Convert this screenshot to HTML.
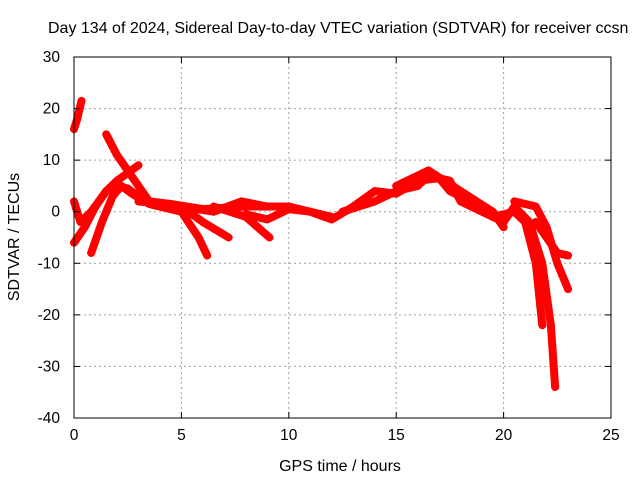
<!DOCTYPE html>
<html><head><meta charset="utf-8"><style>
body{margin:0;background:#fff}
svg{display:block;font-family:"Liberation Sans",sans-serif}
</style></head><body>
<svg id="chart" width="640" height="480" viewBox="0 0 640 480">
<text x="48" y="33" font-size="16" fill="#000">Day 134 of 2024, Sidereal Day-to-day VTEC variation (SDTVAR) for receiver ccsn</text>
<text x="340" y="471" font-size="16" text-anchor="middle">GPS time / hours</text>
<text transform="translate(19,237) rotate(-90)" font-size="16" text-anchor="middle">SDTVAR / TECUs</text>
<g id="grid"></g><g id="marks"></g><g id="axes"></g>
</svg>
<script>
const xTicks=[0,5,10,15,20,25];
const yTicks=[30,20,10,0,-10,-20,-30,-40];
const trackA=[[0,16],[0.15,18],[0.35,21.5]];
const trackB=[[1.5,15],[2,11],[2.5,8],[3,5],[3.5,2],[4.5,1.5],[6,0.5],[8,1],[9,1],[10,1],[11,0],[12,-1]];
const trackC=[[0,-6],[0.5,-3],[1,1],[1.5,4],[2,6],[2.5,7.5],[3,9]];
const trackD=[[0,2],[0.3,-2],[0.8,0],[1.5,4],[2,5],[2.5,4.5],[3,3],[3.5,2],[5,1],[6.5,0],[7.8,2],[9,1]];
const trackE=[[0.8,-8],[1.3,-2],[1.8,3],[2.2,5],[2.7,3.5],[3.5,1.5],[5,0],[5.8,-5],[6.2,-8.5]];
const trackF=[[3,2],[5,1],[6,-2],[7.2,-5]];
const trackG=[[6.5,1],[8,-1],[9.1,-5]];
const trackH=[[8,-0.5],[9,-1.5],[10,0.5],[11,0],[12,-1.5],[13,1],[14,4],[15,3.5],[16,6],[17,6.5],[17.5,4],[18.5,2],[19.5,-1],[20.5,0],[21,-2],[21.5,-10],[21.7,-18],[21.8,-22]];
const trackI=[[12.5,0],[14,2],[15,4],[16,5],[16.5,7],[17.5,6],[18,2],[19,0],[20,-2],[20.5,1],[21.2,-2],[21.8,-10],[22.2,-22],[22.4,-34]];
const trackJ=[[20.5,2],[21.5,1],[22,-3],[22.5,-10],[23,-15]];
const trackK=[[21.5,-2],[22.5,-8],[23,-8.5]];
const trackL=[[15,5],[16.5,8],[18,4],[19.5,0],[20,-3]];
const tracks=[trackA,trackB,trackC,trackD,trackE,trackF,trackG,trackH,trackI,trackJ,trackK,trackL];
const X0=74,X1=611,Y0=418,Y1=57;
const xs=v=>X0+(v-0)/25*(X1-X0);
const ys=v=>Y0-(v+40)/70*(Y0-Y1);
const NS="http://www.w3.org/2000/svg";
function mk(tag,attrs,parent){const e=document.createElementNS(NS,tag);for(const k in attrs)e.setAttribute(k,attrs[k]);parent.appendChild(e);return e;}
const grid=document.getElementById('grid'),axes=document.getElementById('axes'),marks=document.getElementById('marks');
xTicks.forEach(t=>{const x=xs(t);
 if(t>0&&t<25){const g=mk('line',{x1:x,x2:x,y1:Y1,y2:Y0,stroke:'#a0a0a0','stroke-dasharray':'2,3'},grid);
 
 }
 const l=mk('text',{x:x,y:Y0+22,'font-size':15.5,'text-anchor':'middle'},axes);l.textContent=t;
 
 
 mk('line',{x1:x,x2:x,y1:Y0,y2:Y0-6,stroke:'#000'},axes);mk('line',{x1:x,x2:x,y1:Y1,y2:Y1+6,stroke:'#000'},axes);});
yTicks.forEach(t=>{const y=ys(t);
 if(t<30&&t>-40){const g=mk('line',{x1:X0,x2:X1,y1:y,y2:y,stroke:'#a0a0a0','stroke-dasharray':'2,3'},grid);
 
 }
 const l=mk('text',{x:X0-14,y:y+5,'font-size':15.5,'text-anchor':'end'},axes);l.textContent=t;
 
 
 mk('line',{x1:X0,x2:X0+6,y1:y,y2:y,stroke:'#000'},axes);mk('line',{x1:X1,x2:X1-6,y1:y,y2:y,stroke:'#000'},axes);});
const frame=mk('rect',{x:X0,y:Y1,width:X1-X0,height:Y0-Y1,fill:'none',stroke:'#000'},axes);


tracks.forEach((tr,i)=>{
 const p=mk('polyline',{points:tr.map(d=>xs(d[0])+','+ys(d[1])).join(' '),fill:'none',stroke:'#f00','stroke-width':8,'stroke-linejoin':'round','stroke-linecap':'round'},marks);
 
 
 tr.forEach(d=>{const x=xs(d[0]),y=ys(d[1]);
  const m=mk('path',{d:`M${x-4},${y}H${x+4}M${x},${y-4}V${y+4}`,stroke:'#f00','stroke-width':1.2},marks);
  
  });
});
</script>
</body></html>
